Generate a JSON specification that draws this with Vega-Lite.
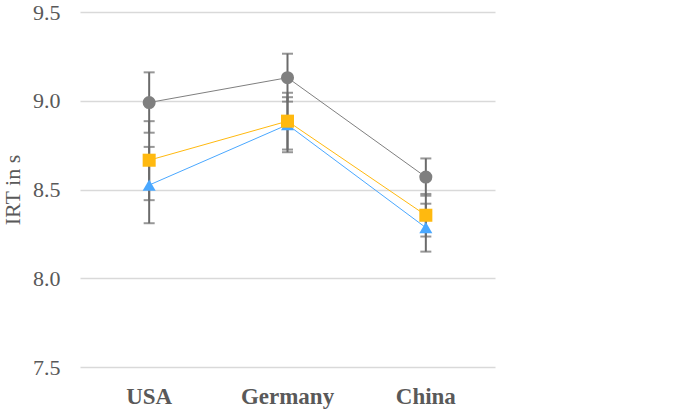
{
  "$schema": "https://vega.github.io/schema/vega-lite/v6.json",
  "width": 415,
  "height": 355,
  "autosize": "none",
  "padding": {"left": 80, "top": 12, "right": 190, "bottom": 44},
  "background": "white",
  "config": {
    "view": {"stroke": null},
    "font": "Times New Roman, Liberation Serif, serif",
    "legend": {
      "title": null,
      "orient": "none",
      "legendX": 466,
      "legendY": 139,
      "padding": 0,
      "rowPadding": 21,
      "symbolSize": 180,
      "labelFont": "Times New Roman, Liberation Serif, serif",
      "labelFontSize": 22,
      "labelColor": "#595959",
      "labelOffset": 20,
      "labelLimit": 300
    }
  },
  "data": {
    "values": [
      {"country": "USA", "condition": "No eHMI", "mean": 8.99, "lo": 8.82, "hi": 9.16},
      {"country": "USA", "condition": "Icon", "mean": 8.525, "lo": 8.31, "hi": 8.74},
      {"country": "USA", "condition": "Light-band", "mean": 8.665, "lo": 8.44, "hi": 8.885},
      {"country": "Germany", "condition": "No eHMI", "mean": 9.13, "lo": 8.995, "hi": 9.265},
      {"country": "Germany", "condition": "Icon", "mean": 8.865, "lo": 8.71, "hi": 9.02},
      {"country": "Germany", "condition": "Light-band", "mean": 8.885, "lo": 8.725, "hi": 9.045},
      {"country": "China", "condition": "No eHMI", "mean": 8.57, "lo": 8.465, "hi": 8.675},
      {"country": "China", "condition": "Icon", "mean": 8.285, "lo": 8.15, "hi": 8.42},
      {"country": "China", "condition": "Light-band", "mean": 8.355, "lo": 8.235, "hi": 8.475}
    ]
  },
  "encoding": {
    "x": {
      "field": "country",
      "type": "nominal",
      "sort": ["USA", "Germany", "China"],
      "scale": {"type": "band", "paddingInner": 0, "paddingOuter": 0},
      "axis": {
        "title": null,
        "labelAngle": 0,
        "labelFont": "Times New Roman, Liberation Serif, serif",
        "labelFontSize": 23,
        "labelFontWeight": "bold",
        "labelColor": "#595959",
        "labelPadding": 18,
        "domain": false,
        "ticks": false,
        "grid": false
      }
    }
  },
  "layer": [
    {
      "mark": {"type": "rule", "color": "#6b6b6b", "strokeWidth": 2},
      "encoding": {
        "y": {
          "field": "lo",
          "type": "quantitative",
          "scale": {"domain": [7.5, 9.5], "nice": false, "zero": false},
          "axis": {
            "title": "IRT in s",
            "titleFont": "Times New Roman, Liberation Serif, serif",
            "titleFontSize": 22,
            "titleFontWeight": "normal",
            "titleColor": "#595959",
            "titlePadding": 8,
            "values": [7.5, 8.0, 8.5, 9.0, 9.5],
            "format": ".1f",
            "labelFont": "Times New Roman, Liberation Serif, serif",
            "labelFontSize": 22,
            "labelColor": "#595959",
            "labelPadding": 20,
            "domain": false,
            "ticks": false,
            "grid": true,
            "gridColor": "#d9d9d9",
            "gridWidth": 1.5
          }
        },
        "y2": {"field": "hi"}
      }
    },
    {
      "mark": {"type": "tick", "color": "#6b6b6b", "size": 11, "thickness": 2, "orient": "horizontal"},
      "encoding": {"y": {"field": "lo", "type": "quantitative"}}
    },
    {
      "mark": {"type": "tick", "color": "#6b6b6b", "size": 11, "thickness": 2, "orient": "horizontal"},
      "encoding": {"y": {"field": "hi", "type": "quantitative"}}
    },
    {
      "mark": {"type": "line", "strokeWidth": 1},
      "encoding": {
        "y": {"field": "mean", "type": "quantitative"},
        "color": {
          "field": "condition",
          "type": "nominal",
          "scale": {"domain": ["No eHMI", "Icon", "Light-band"], "range": ["#7f7f7f", "#4aa8ff", "#ffb90f"]}
        },
        "order": {"field": "country", "sort": "ascending"},
        "detail": {"field": "condition"}
      }
    },
    {
      "mark": {"type": "point", "filled": true, "opacity": 1, "size": 170},
      "encoding": {
        "y": {"field": "mean", "type": "quantitative"},
        "color": {
          "field": "condition",
          "type": "nominal",
          "scale": {"domain": ["No eHMI", "Icon", "Light-band"], "range": ["#7f7f7f", "#4aa8ff", "#ffb90f"]}
        },
        "shape": {
          "field": "condition",
          "type": "nominal",
          "scale": {"domain": ["No eHMI", "Icon", "Light-band"], "range": ["circle", "triangle-up", "square"]},
          "legend": null
        }
      }
    }
  ]
}
